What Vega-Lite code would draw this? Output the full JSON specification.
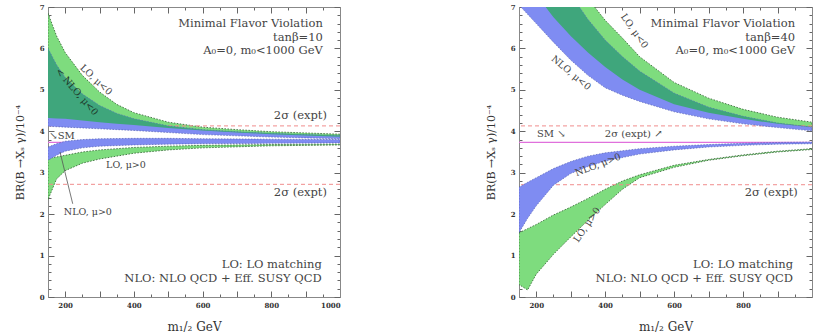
{
  "$schema": "https://vega.github.io/schema/vega-lite/v6.json",
  "background": "white",
  "padding": {"left": 14, "top": 3, "right": 0, "bottom": 0},
  "config": {"font": "DejaVu Serif", "view": {"stroke": null}},
  "bounds": "flush",
  "spacing": 179,
  "datasets": {
    "bands": [
      {"p":"L","b":"LOn","x":150,"lo":4.32,"hi":6.85},{"p":"L","b":"LOn","x":175,"lo":4.31,"hi":6.3},{"p":"L","b":"LOn","x":200,"lo":4.3,"hi":5.9},{"p":"L","b":"LOn","x":250,"lo":4.26,"hi":5.35},{"p":"L","b":"LOn","x":300,"lo":4.22,"hi":4.95},{"p":"L","b":"LOn","x":350,"lo":4.18,"hi":4.65},{"p":"L","b":"LOn","x":400,"lo":4.15,"hi":4.45},{"p":"L","b":"LOn","x":500,"lo":4.08,"hi":4.22},{"p":"L","b":"LOn","x":600,"lo":4.02,"hi":4.1},{"p":"L","b":"LOn","x":700,"lo":3.97,"hi":4.04},{"p":"L","b":"LOn","x":800,"lo":3.93,"hi":3.99},{"p":"L","b":"LOn","x":900,"lo":3.9,"hi":3.96},{"p":"L","b":"LOn","x":1000,"lo":3.87,"hi":3.93},
      {"p":"L","b":"NLOn","x":150,"lo":4.12,"hi":6.0},{"p":"L","b":"NLOn","x":175,"lo":4.11,"hi":5.6},{"p":"L","b":"NLOn","x":200,"lo":4.1,"hi":5.3},{"p":"L","b":"NLOn","x":250,"lo":4.08,"hi":4.9},{"p":"L","b":"NLOn","x":300,"lo":4.06,"hi":4.62},{"p":"L","b":"NLOn","x":350,"lo":4.04,"hi":4.43},{"p":"L","b":"NLOn","x":400,"lo":4.02,"hi":4.3},{"p":"L","b":"NLOn","x":500,"lo":3.97,"hi":4.13},{"p":"L","b":"NLOn","x":600,"lo":3.92,"hi":4.04},{"p":"L","b":"NLOn","x":700,"lo":3.89,"hi":3.99},{"p":"L","b":"NLOn","x":800,"lo":3.86,"hi":3.95},{"p":"L","b":"NLOn","x":900,"lo":3.84,"hi":3.92},{"p":"L","b":"NLOn","x":1000,"lo":3.82,"hi":3.9},
      {"p":"L","b":"OVn","x":150,"lo":4.32,"hi":6.0},{"p":"L","b":"OVn","x":175,"lo":4.31,"hi":5.6},{"p":"L","b":"OVn","x":200,"lo":4.3,"hi":5.3},{"p":"L","b":"OVn","x":250,"lo":4.26,"hi":4.9},{"p":"L","b":"OVn","x":300,"lo":4.22,"hi":4.62},{"p":"L","b":"OVn","x":350,"lo":4.18,"hi":4.43},{"p":"L","b":"OVn","x":400,"lo":4.15,"hi":4.3},{"p":"L","b":"OVn","x":500,"lo":4.08,"hi":4.13},{"p":"L","b":"OVn","x":600,"lo":4.02,"hi":4.04},{"p":"L","b":"OVn","x":700,"lo":3.97,"hi":3.99},{"p":"L","b":"OVn","x":800,"lo":3.93,"hi":3.95},{"p":"L","b":"OVn","x":900,"lo":3.9,"hi":3.92},{"p":"L","b":"OVn","x":1000,"lo":3.87,"hi":3.9},
      {"p":"L","b":"NLOp","x":150,"lo":3.3,"hi":3.62},{"p":"L","b":"NLOp","x":175,"lo":3.42,"hi":3.7},{"p":"L","b":"NLOp","x":200,"lo":3.52,"hi":3.76},{"p":"L","b":"NLOp","x":250,"lo":3.6,"hi":3.8},{"p":"L","b":"NLOp","x":300,"lo":3.64,"hi":3.82},{"p":"L","b":"NLOp","x":400,"lo":3.67,"hi":3.83},{"p":"L","b":"NLOp","x":500,"lo":3.69,"hi":3.83},{"p":"L","b":"NLOp","x":600,"lo":3.7,"hi":3.82},{"p":"L","b":"NLOp","x":800,"lo":3.71,"hi":3.81},{"p":"L","b":"NLOp","x":1000,"lo":3.72,"hi":3.8},
      {"p":"L","b":"LOp","x":150,"lo":2.35,"hi":3.35},{"p":"L","b":"LOp","x":175,"lo":2.85,"hi":3.38},{"p":"L","b":"LOp","x":200,"lo":3.05,"hi":3.42},{"p":"L","b":"LOp","x":250,"lo":3.23,"hi":3.5},{"p":"L","b":"LOp","x":300,"lo":3.33,"hi":3.55},{"p":"L","b":"LOp","x":400,"lo":3.47,"hi":3.61},{"p":"L","b":"LOp","x":500,"lo":3.55,"hi":3.64},{"p":"L","b":"LOp","x":600,"lo":3.6,"hi":3.66},{"p":"L","b":"LOp","x":800,"lo":3.65,"hi":3.68},{"p":"L","b":"LOp","x":1000,"lo":3.67,"hi":3.69},
      {"p":"R","b":"LOn","x":150,"lo":8.0,"hi":11},{"p":"R","b":"LOn","x":200,"lo":7.3,"hi":10},{"p":"R","b":"LOn","x":250,"lo":6.75,"hi":8.9},{"p":"R","b":"LOn","x":300,"lo":6.3,"hi":7.95},{"p":"R","b":"LOn","x":350,"lo":5.9,"hi":7.2},{"p":"R","b":"LOn","x":400,"lo":5.55,"hi":6.68},{"p":"R","b":"LOn","x":450,"lo":5.25,"hi":6.25},{"p":"R","b":"LOn","x":500,"lo":5.0,"hi":5.8},{"p":"R","b":"LOn","x":600,"lo":4.65,"hi":5.18},{"p":"R","b":"LOn","x":700,"lo":4.45,"hi":4.8},{"p":"R","b":"LOn","x":800,"lo":4.3,"hi":4.53},{"p":"R","b":"LOn","x":900,"lo":4.18,"hi":4.34},{"p":"R","b":"LOn","x":1000,"lo":4.1,"hi":4.22},
      {"p":"R","b":"NLOn","x":150,"lo":7.05,"hi":10.3},{"p":"R","b":"NLOn","x":200,"lo":6.6,"hi":9.2},{"p":"R","b":"NLOn","x":250,"lo":6.15,"hi":8.2},{"p":"R","b":"NLOn","x":300,"lo":5.72,"hi":7.3},{"p":"R","b":"NLOn","x":350,"lo":5.35,"hi":6.7},{"p":"R","b":"NLOn","x":400,"lo":5.05,"hi":6.2},{"p":"R","b":"NLOn","x":450,"lo":4.87,"hi":5.8},{"p":"R","b":"NLOn","x":500,"lo":4.72,"hi":5.45},{"p":"R","b":"NLOn","x":600,"lo":4.47,"hi":4.92},{"p":"R","b":"NLOn","x":700,"lo":4.3,"hi":4.58},{"p":"R","b":"NLOn","x":800,"lo":4.18,"hi":4.36},{"p":"R","b":"NLOn","x":900,"lo":4.09,"hi":4.2},{"p":"R","b":"NLOn","x":1000,"lo":4.01,"hi":4.1},
      {"p":"R","b":"OVn","x":150,"lo":8.0,"hi":10.3},{"p":"R","b":"OVn","x":200,"lo":7.3,"hi":9.2},{"p":"R","b":"OVn","x":250,"lo":6.75,"hi":8.2},{"p":"R","b":"OVn","x":300,"lo":6.3,"hi":7.3},{"p":"R","b":"OVn","x":350,"lo":5.9,"hi":6.7},{"p":"R","b":"OVn","x":400,"lo":5.55,"hi":6.2},{"p":"R","b":"OVn","x":450,"lo":5.25,"hi":5.8},{"p":"R","b":"OVn","x":500,"lo":5.0,"hi":5.45},{"p":"R","b":"OVn","x":600,"lo":4.65,"hi":4.92},{"p":"R","b":"OVn","x":700,"lo":4.45,"hi":4.58},{"p":"R","b":"OVn","x":800,"lo":4.3,"hi":4.36},{"p":"R","b":"OVn","x":900,"lo":4.18,"hi":4.2},{"p":"R","b":"OVn","x":1000,"lo":4.1,"hi":4.1},
      {"p":"R","b":"NLOp","x":150,"lo":1.55,"hi":2.65},{"p":"R","b":"NLOp","x":175,"lo":1.9,"hi":2.77},{"p":"R","b":"NLOp","x":200,"lo":2.2,"hi":2.88},{"p":"R","b":"NLOp","x":250,"lo":2.7,"hi":3.1},{"p":"R","b":"NLOp","x":300,"lo":2.98,"hi":3.27},{"p":"R","b":"NLOp","x":350,"lo":3.15,"hi":3.4},{"p":"R","b":"NLOp","x":400,"lo":3.28,"hi":3.48},{"p":"R","b":"NLOp","x":500,"lo":3.45,"hi":3.58},{"p":"R","b":"NLOp","x":600,"lo":3.55,"hi":3.64},{"p":"R","b":"NLOp","x":700,"lo":3.62,"hi":3.68},{"p":"R","b":"NLOp","x":800,"lo":3.66,"hi":3.71},{"p":"R","b":"NLOp","x":900,"lo":3.69,"hi":3.73},{"p":"R","b":"NLOp","x":1000,"lo":3.7,"hi":3.74},
      {"p":"R","b":"LOp","x":150,"lo":0.3,"hi":1.55},{"p":"R","b":"LOp","x":175,"lo":0.17,"hi":1.65},{"p":"R","b":"LOp","x":200,"lo":0.55,"hi":1.75},{"p":"R","b":"LOp","x":250,"lo":1.03,"hi":1.98},{"p":"R","b":"LOp","x":300,"lo":1.45,"hi":2.17},{"p":"R","b":"LOp","x":350,"lo":1.85,"hi":2.38},{"p":"R","b":"LOp","x":400,"lo":2.23,"hi":2.6},{"p":"R","b":"LOp","x":450,"lo":2.6,"hi":2.8},{"p":"R","b":"LOp","x":500,"lo":2.88,"hi":2.95},{"p":"R","b":"LOp","x":600,"lo":3.13,"hi":3.18},{"p":"R","b":"LOp","x":700,"lo":3.3,"hi":3.32},{"p":"R","b":"LOp","x":800,"lo":3.41,"hi":3.43},{"p":"R","b":"LOp","x":900,"lo":3.5,"hi":3.52},{"p":"R","b":"LOp","x":1000,"lo":3.56,"hi":3.58}
    ],
    "lines": [
      {"p":"L","k":"sm","y":3.73},{"p":"L","k":"ex","y":4.13},{"p":"L","k":"ex","y":2.72},
      {"p":"R","k":"sm","y":3.73},{"p":"R","k":"ex","y":4.13},{"p":"R","k":"ex","y":2.71}
    ],
    "arrows": [
      {"p":"L","x":185,"y":3.5,"x2":222,"y2":2.25}
    ],
    "frame": [
      {"x":150,"y":0},{"x":1000,"y":7}
    ],
    "notes": [
      {"p":"L","k":"r","x":950,"y":6.59,"t":"Minimal Flavor Violation"},
      {"p":"L","k":"r","x":950,"y":6.26,"t":"tanβ=10"},
      {"p":"L","k":"r","x":950,"y":5.93,"t":"A₀=0, m₀<1000 GeV"},
      {"p":"L","k":"r","x":962,"y":4.37,"t":"2σ (expt)"},
      {"p":"L","k":"r","x":962,"y":2.51,"t":"2σ (expt)"},
      {"p":"L","k":"r","x":947,"y":0.77,"t":"LO: LO matching"},
      {"p":"L","k":"r","x":947,"y":0.44,"t":"NLO: NLO QCD + Eff. SUSY QCD"},
      {"p":"L","k":"l","x":154,"y":3.89,"t":"↘SM"},
      {"p":"L","k":"c","x":377,"y":3.19,"t":"LO, μ>0"},
      {"p":"L","k":"c","x":266,"y":2.05,"t":"NLO, μ>0"},
      {"p":"L","k":"a43","x":290,"y":5.24,"t":"LO, μ<0"},
      {"p":"L","k":"a49","x":234,"y":4.95,"t":"< NLO, μ<0"},
      {"p":"R","k":"r","x":951,"y":6.59,"t":"Minimal Flavor Violation"},
      {"p":"R","k":"r","x":951,"y":6.26,"t":"tanβ=40"},
      {"p":"R","k":"r","x":951,"y":5.93,"t":"A₀=0, m₀<1000 GeV"},
      {"p":"R","k":"r","x":959,"y":2.51,"t":"2σ (expt)"},
      {"p":"R","k":"r","x":945,"y":0.77,"t":"LO: LO matching"},
      {"p":"R","k":"r","x":945,"y":0.44,"t":"NLO: NLO QCD + Eff. SUSY QCD"},
      {"p":"R","k":"l","x":202,"y":3.94,"t":"SM ↘"},
      {"p":"R","k":"l","x":399,"y":3.94,"t":"2σ (expt) ↗"},
      {"p":"R","k":"a40","x":301,"y":5.41,"t":"NLO, μ<0"},
      {"p":"R","k":"a55","x":485,"y":6.42,"t":"LO, μ<0"},
      {"p":"R","k":"am21","x":379,"y":3.19,"t":"NLO, μ>0"},
      {"p":"R","k":"am56","x":347,"y":1.74,"t":"LO, μ>0"}
    ]
  },
  "hconcat": [
    {
      "width": 292, "height": 290,
      "layer": [
        {"data": {"name": "bands"}, "transform": [{"filter": "datum.p === 'L' && (datum.b === 'LOn' || datum.b === 'LOp')"}],
         "mark": {"type": "area", "color": "#7edc7e", "clip": true, "stroke": "#2e5a2e", "strokeWidth": 0.8, "strokeDash": [1.5, 1.5]},
         "encoding": {
           "x": {"field": "x", "type": "quantitative", "scale": {"domain": [150, 1000], "nice": false, "zero": false},
                 "axis": {"orient": "bottom", "title": "m₁/₂  GeV", "values": [150,200,250,300,350,400,450,500,550,600,650,700,750,800,850,900,950,1000], "format": "d",
                          "labelExpr": "datum.value % 200 === 0 ? datum.label : ''", "labelOverlap": false, "labelFontSize": 7, "labelFontWeight": "bold", "labelColor": "#333",
                          "labelPadding": 10, "tickSize": {"condition": {"test": "datum.value % 100 === 0", "value": -6}, "value": -3}, "tickColor": "#666",
                          "domainColor": "#888", "grid": false, "titleFontSize": 12, "titleFontWeight": "normal", "titleColor": "#333", "titlePadding": 10}},
           "y": {"field": "hi", "type": "quantitative", "scale": {"domain": [0, 7], "nice": false, "zero": false},
                 "axis": {"orient": "left", "title": "BR(B →Xₛ γ)/10⁻⁴", "values": [0,0.2,0.4,0.6,0.8,1,1.2,1.4,1.6,1.8,2,2.2,2.4,2.6,2.8,3,3.2,3.4,3.6,3.8,4,4.2,4.4,4.6,4.8,5,5.2,5.4,5.6,5.8,6,6.2,6.4,6.6,6.8,7],
                          "labelExpr": "abs(datum.value - round(datum.value)) < 0.01 ? '' + round(datum.value) : ''", "labelOverlap": false, "labelFontSize": 7, "labelFontWeight": "bold", "labelColor": "#333",
                          "labelPadding": 10, "tickSize": {"condition": {"test": "abs(datum.value - round(datum.value)) < 0.01", "value": -6}, "value": -3}, "tickColor": "#666",
                          "domainColor": "#888", "grid": false, "titleFontSize": 11, "titleFontWeight": "normal", "titleColor": "#333", "titlePadding": 14}},
           "y2": {"field": "lo"},
           "detail": {"field": "b"}
         }},
        {"data": {"name": "frame"},
         "mark": {"type": "point", "opacity": 0},
         "encoding": {
           "x": {"field": "x", "type": "quantitative", "scale": {"domain": [150, 1000], "nice": false, "zero": false},
                 "axis": {"orient": "top", "title": null, "labels": false, "values": [150,200,250,300,350,400,450,500,550,600,650,700,750,800,850,900,950,1000],
                          "tickSize": {"condition": {"test": "datum.value % 100 === 0", "value": -6}, "value": -3}, "tickColor": "#666", "domainColor": "#888", "grid": false}},
           "y": {"field": "y", "type": "quantitative", "scale": {"domain": [0, 7], "nice": false, "zero": false},
                 "axis": {"orient": "right", "title": null, "labels": false, "values": [0,0.2,0.4,0.6,0.8,1,1.2,1.4,1.6,1.8,2,2.2,2.4,2.6,2.8,3,3.2,3.4,3.6,3.8,4,4.2,4.4,4.6,4.8,5,5.2,5.4,5.6,5.8,6,6.2,6.4,6.6,6.8,7],
                          "tickSize": {"condition": {"test": "abs(datum.value - round(datum.value)) < 0.01", "value": -6}, "value": -3}, "tickColor": "#666", "domainColor": "#888", "grid": false}}
         }},
        {"data": {"name": "lines"}, "transform": [{"filter": "datum.p === 'L' && datum.k === 'sm'"}],
         "mark": {"type": "rule", "color": "#e070dc", "strokeWidth": 1.2},
         "encoding": {"y": {"field": "y", "type": "quantitative", "scale": {"domain": [0, 7], "nice": false, "zero": false}, "axis": null}}},
        {"data": {"name": "lines"}, "transform": [{"filter": "datum.p === 'L' && datum.k === 'ex'"}],
         "mark": {"type": "rule", "color": "#f08c8c", "strokeWidth": 1, "strokeDash": [4, 3]},
         "encoding": {"y": {"field": "y", "type": "quantitative", "scale": {"domain": [0, 7], "nice": false, "zero": false}, "axis": null}}},
        {"data": {"name": "bands"}, "transform": [{"filter": "datum.p === 'L' && (datum.b === 'NLOn' || datum.b === 'NLOp')"}],
         "mark": {"type": "area", "color": "#7f8cf2", "clip": true, "stroke": "#4a55a8", "strokeWidth": 0.6, "strokeDash": [1.5, 1.5]},
         "encoding": {
           "x": {"field": "x", "type": "quantitative", "scale": {"domain": [150, 1000], "nice": false, "zero": false}, "axis": null},
           "y": {"field": "hi", "type": "quantitative", "scale": {"domain": [0, 7], "nice": false, "zero": false}, "axis": null},
           "y2": {"field": "lo"},
           "detail": {"field": "b"}
         }},
        {"data": {"name": "bands"}, "transform": [{"filter": "datum.p === 'L' && datum.b === 'OVn'"}],
         "mark": {"type": "area", "color": "#3fa67c", "clip": true},
         "encoding": {
           "x": {"field": "x", "type": "quantitative", "scale": {"domain": [150, 1000], "nice": false, "zero": false}, "axis": null},
           "y": {"field": "hi", "type": "quantitative", "scale": {"domain": [0, 7], "nice": false, "zero": false}, "axis": null},
           "y2": {"field": "lo"}
         }},
        {"data": {"name": "arrows"}, "transform": [{"filter": "datum.p === 'L'"}],
         "mark": {"type": "rule", "color": "#555", "strokeWidth": 0.8},
         "encoding": {
           "x": {"field": "x", "type": "quantitative", "scale": {"domain": [150, 1000], "nice": false, "zero": false}, "axis": null},
           "y": {"field": "y", "type": "quantitative", "scale": {"domain": [0, 7], "nice": false, "zero": false}, "axis": null},
           "x2": {"field": "x2"}, "y2": {"field": "y2"}
         }},
        {"data": {"name": "notes"}, "transform": [{"filter": "datum.p === 'L' && datum.k === 'r'"}],
         "mark": {"type": "text", "align": "right", "baseline": "middle", "fontSize": 11.5, "color": "#444"},
         "encoding": {
           "x": {"field": "x", "type": "quantitative", "scale": {"domain": [150, 1000], "nice": false, "zero": false}, "axis": null},
           "y": {"field": "y", "type": "quantitative", "scale": {"domain": [0, 7], "nice": false, "zero": false}, "axis": null},
           "text": {"field": "t"}
         }},
        {"data": {"name": "notes"}, "transform": [{"filter": "datum.p === 'L' && datum.k === 'l'"}],
         "mark": {"type": "text", "align": "left", "baseline": "middle", "fontSize": 10, "color": "#444"},
         "encoding": {
           "x": {"field": "x", "type": "quantitative", "scale": {"domain": [150, 1000], "nice": false, "zero": false}, "axis": null},
           "y": {"field": "y", "type": "quantitative", "scale": {"domain": [0, 7], "nice": false, "zero": false}, "axis": null},
           "text": {"field": "t"}
         }},
        {"data": {"name": "notes"}, "transform": [{"filter": "datum.p === 'L' && datum.k === 'c'"}],
         "mark": {"type": "text", "align": "center", "baseline": "middle", "fontSize": 9.5, "color": "#444"},
         "encoding": {
           "x": {"field": "x", "type": "quantitative", "scale": {"domain": [150, 1000], "nice": false, "zero": false}, "axis": null},
           "y": {"field": "y", "type": "quantitative", "scale": {"domain": [0, 7], "nice": false, "zero": false}, "axis": null},
           "text": {"field": "t"}
         }},
        {"data": {"name": "notes"}, "transform": [{"filter": "datum.p === 'L' && datum.k === 'a43'"}],
         "mark": {"type": "text", "align": "center", "baseline": "middle", "fontSize": 9.5, "color": "#444", "angle": 43},
         "encoding": {
           "x": {"field": "x", "type": "quantitative", "scale": {"domain": [150, 1000], "nice": false, "zero": false}, "axis": null},
           "y": {"field": "y", "type": "quantitative", "scale": {"domain": [0, 7], "nice": false, "zero": false}, "axis": null},
           "text": {"field": "t"}
         }},
        {"data": {"name": "notes"}, "transform": [{"filter": "datum.p === 'L' && datum.k === 'a49'"}],
         "mark": {"type": "text", "align": "center", "baseline": "middle", "fontSize": 9.5, "color": "#1e3a2a", "angle": 49},
         "encoding": {
           "x": {"field": "x", "type": "quantitative", "scale": {"domain": [150, 1000], "nice": false, "zero": false}, "axis": null},
           "y": {"field": "y", "type": "quantitative", "scale": {"domain": [0, 7], "nice": false, "zero": false}, "axis": null},
           "text": {"field": "t"}
         }}
      ],
      "resolve": {"axis": {"x": "independent", "y": "independent"}}
    },
    {
      "width": 293, "height": 290,
      "layer": [
        {"data": {"name": "bands"}, "transform": [{"filter": "datum.p === 'R' && (datum.b === 'LOn' || datum.b === 'LOp')"}],
         "mark": {"type": "area", "color": "#7edc7e", "clip": true, "stroke": "#2e5a2e", "strokeWidth": 0.8, "strokeDash": [1.5, 1.5]},
         "encoding": {
           "x": {"field": "x", "type": "quantitative", "scale": {"domain": [150, 1000], "nice": false, "zero": false},
                 "axis": {"orient": "bottom", "title": "m₁/₂  GeV", "values": [150,200,250,300,350,400,450,500,550,600,650,700,750,800,850,900,950,1000], "format": "d",
                          "labelExpr": "datum.value % 200 === 0 && datum.value < 1000 ? datum.label : ''", "labelOverlap": false, "labelFontSize": 7, "labelFontWeight": "bold", "labelColor": "#333",
                          "labelPadding": 10, "tickSize": {"condition": {"test": "datum.value % 100 === 0", "value": -6}, "value": -3}, "tickColor": "#666",
                          "domainColor": "#888", "grid": false, "titleFontSize": 12, "titleFontWeight": "normal", "titleColor": "#333", "titlePadding": 10}},
           "y": {"field": "hi", "type": "quantitative", "scale": {"domain": [0, 7], "nice": false, "zero": false},
                 "axis": {"orient": "left", "title": "BR(B →Xₛ γ)/10⁻⁴", "values": [0,0.2,0.4,0.6,0.8,1,1.2,1.4,1.6,1.8,2,2.2,2.4,2.6,2.8,3,3.2,3.4,3.6,3.8,4,4.2,4.4,4.6,4.8,5,5.2,5.4,5.6,5.8,6,6.2,6.4,6.6,6.8,7],
                          "labelExpr": "abs(datum.value - round(datum.value)) < 0.01 ? '' + round(datum.value) : ''", "labelOverlap": false, "labelFontSize": 7, "labelFontWeight": "bold", "labelColor": "#333",
                          "labelPadding": 10, "tickSize": {"condition": {"test": "abs(datum.value - round(datum.value)) < 0.01", "value": -6}, "value": -3}, "tickColor": "#666",
                          "domainColor": "#888", "grid": false, "titleFontSize": 11, "titleFontWeight": "normal", "titleColor": "#333", "titlePadding": 14}},
           "y2": {"field": "lo"},
           "detail": {"field": "b"}
         }},
        {"data": {"name": "frame"},
         "mark": {"type": "point", "opacity": 0},
         "encoding": {
           "x": {"field": "x", "type": "quantitative", "scale": {"domain": [150, 1000], "nice": false, "zero": false},
                 "axis": {"orient": "top", "title": null, "labels": false, "values": [150,200,250,300,350,400,450,500,550,600,650,700,750,800,850,900,950,1000],
                          "tickSize": {"condition": {"test": "datum.value % 100 === 0", "value": -6}, "value": -3}, "tickColor": "#666", "domainColor": "#888", "grid": false}},
           "y": {"field": "y", "type": "quantitative", "scale": {"domain": [0, 7], "nice": false, "zero": false},
                 "axis": {"orient": "right", "title": null, "labels": false, "values": [0,0.2,0.4,0.6,0.8,1,1.2,1.4,1.6,1.8,2,2.2,2.4,2.6,2.8,3,3.2,3.4,3.6,3.8,4,4.2,4.4,4.6,4.8,5,5.2,5.4,5.6,5.8,6,6.2,6.4,6.6,6.8,7],
                          "tickSize": {"condition": {"test": "abs(datum.value - round(datum.value)) < 0.01", "value": -6}, "value": -3}, "tickColor": "#666", "domainColor": "#888", "grid": false}}
         }},
        {"data": {"name": "lines"}, "transform": [{"filter": "datum.p === 'R' && datum.k === 'sm'"}],
         "mark": {"type": "rule", "color": "#e070dc", "strokeWidth": 1.2},
         "encoding": {"y": {"field": "y", "type": "quantitative", "scale": {"domain": [0, 7], "nice": false, "zero": false}, "axis": null}}},
        {"data": {"name": "lines"}, "transform": [{"filter": "datum.p === 'R' && datum.k === 'ex'"}],
         "mark": {"type": "rule", "color": "#f08c8c", "strokeWidth": 1, "strokeDash": [4, 3]},
         "encoding": {"y": {"field": "y", "type": "quantitative", "scale": {"domain": [0, 7], "nice": false, "zero": false}, "axis": null}}},
        {"data": {"name": "bands"}, "transform": [{"filter": "datum.p === 'R' && (datum.b === 'NLOn' || datum.b === 'NLOp')"}],
         "mark": {"type": "area", "color": "#7f8cf2", "clip": true, "stroke": "#4a55a8", "strokeWidth": 0.6, "strokeDash": [1.5, 1.5]},
         "encoding": {
           "x": {"field": "x", "type": "quantitative", "scale": {"domain": [150, 1000], "nice": false, "zero": false}, "axis": null},
           "y": {"field": "hi", "type": "quantitative", "scale": {"domain": [0, 7], "nice": false, "zero": false}, "axis": null},
           "y2": {"field": "lo"},
           "detail": {"field": "b"}
         }},
        {"data": {"name": "bands"}, "transform": [{"filter": "datum.p === 'R' && datum.b === 'OVn'"}],
         "mark": {"type": "area", "color": "#3fa67c", "clip": true},
         "encoding": {
           "x": {"field": "x", "type": "quantitative", "scale": {"domain": [150, 1000], "nice": false, "zero": false}, "axis": null},
           "y": {"field": "hi", "type": "quantitative", "scale": {"domain": [0, 7], "nice": false, "zero": false}, "axis": null},
           "y2": {"field": "lo"}
         }},
        {"data": {"name": "notes"}, "transform": [{"filter": "datum.p === 'R' && datum.k === 'r'"}],
         "mark": {"type": "text", "align": "right", "baseline": "middle", "fontSize": 11.5, "color": "#444"},
         "encoding": {
           "x": {"field": "x", "type": "quantitative", "scale": {"domain": [150, 1000], "nice": false, "zero": false}, "axis": null},
           "y": {"field": "y", "type": "quantitative", "scale": {"domain": [0, 7], "nice": false, "zero": false}, "axis": null},
           "text": {"field": "t"}
         }},
        {"data": {"name": "notes"}, "transform": [{"filter": "datum.p === 'R' && datum.k === 'l'"}],
         "mark": {"type": "text", "align": "left", "baseline": "middle", "fontSize": 10, "color": "#444"},
         "encoding": {
           "x": {"field": "x", "type": "quantitative", "scale": {"domain": [150, 1000], "nice": false, "zero": false}, "axis": null},
           "y": {"field": "y", "type": "quantitative", "scale": {"domain": [0, 7], "nice": false, "zero": false}, "axis": null},
           "text": {"field": "t"}
         }},
        {"data": {"name": "notes"}, "transform": [{"filter": "datum.p === 'R' && datum.k === 'a40'"}],
         "mark": {"type": "text", "align": "center", "baseline": "middle", "fontSize": 9.5, "color": "#444", "angle": 40},
         "encoding": {
           "x": {"field": "x", "type": "quantitative", "scale": {"domain": [150, 1000], "nice": false, "zero": false}, "axis": null},
           "y": {"field": "y", "type": "quantitative", "scale": {"domain": [0, 7], "nice": false, "zero": false}, "axis": null},
           "text": {"field": "t"}
         }},
        {"data": {"name": "notes"}, "transform": [{"filter": "datum.p === 'R' && datum.k === 'a55'"}],
         "mark": {"type": "text", "align": "center", "baseline": "middle", "fontSize": 9.5, "color": "#444", "angle": 55},
         "encoding": {
           "x": {"field": "x", "type": "quantitative", "scale": {"domain": [150, 1000], "nice": false, "zero": false}, "axis": null},
           "y": {"field": "y", "type": "quantitative", "scale": {"domain": [0, 7], "nice": false, "zero": false}, "axis": null},
           "text": {"field": "t"}
         }},
        {"data": {"name": "notes"}, "transform": [{"filter": "datum.p === 'R' && datum.k === 'am21'"}],
         "mark": {"type": "text", "align": "center", "baseline": "middle", "fontSize": 9.5, "color": "#444", "angle": -21},
         "encoding": {
           "x": {"field": "x", "type": "quantitative", "scale": {"domain": [150, 1000], "nice": false, "zero": false}, "axis": null},
           "y": {"field": "y", "type": "quantitative", "scale": {"domain": [0, 7], "nice": false, "zero": false}, "axis": null},
           "text": {"field": "t"}
         }},
        {"data": {"name": "notes"}, "transform": [{"filter": "datum.p === 'R' && datum.k === 'am56'"}],
         "mark": {"type": "text", "align": "center", "baseline": "middle", "fontSize": 9.5, "color": "#444", "angle": -56},
         "encoding": {
           "x": {"field": "x", "type": "quantitative", "scale": {"domain": [150, 1000], "nice": false, "zero": false}, "axis": null},
           "y": {"field": "y", "type": "quantitative", "scale": {"domain": [0, 7], "nice": false, "zero": false}, "axis": null},
           "text": {"field": "t"}
         }}
      ],
      "resolve": {"axis": {"x": "independent", "y": "independent"}}
    }
  ]
}
